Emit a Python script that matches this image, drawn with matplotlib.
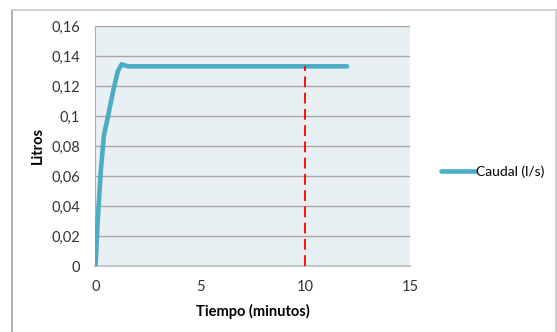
import matplotlib
matplotlib.use("Agg")
import matplotlib.pyplot as plt
from matplotlib.lines import Line2D

tiempo = [0, 0.1, 0.25, 0.4, 0.6, 0.83, 1.07, 1.25, 1.4, 1.55, 2, 3, 4, 5, 6, 7, 8, 9, 10, 11, 12]
caudal = [0, 0.029, 0.063, 0.087, 0.100, 0.116, 0.130, 0.1345, 0.1337, 0.1331,
          0.1331, 0.1331, 0.1331, 0.1331, 0.1331, 0.1331, 0.1331, 0.1331, 0.1331, 0.1331, 0.1331]
marca_x = [10, 10]
marca_y = [0, 0.1331]
yticks = [0, 0.02, 0.04, 0.06, 0.08, 0.1, 0.12, 0.14, 0.16]
ylabels = ["0", "0,02", "0,04", "0,06", "0,08", "0,1", "0,12", "0,14", "0,16"]
xticks = [0, 5, 10, 15]

plt.rcParams['font.family'] = ['Lato', 'DejaVu Sans']
W, H = 557, 332
fig = plt.figure(figsize=(W / 100, H / 100), dpi=100)
ax = fig.add_axes([95.5 / W, 1 - 266 / H, (410 - 95.5) / W, (266 - 26) / H])
ax.set_facecolor('#E9F0F4')

ax.plot(tiempo, caudal, color='#4BACC6', lw=3.3, solid_capstyle='round', solid_joinstyle='round', zorder=3)
ax.plot(marca_x, marca_y, color='#FF0000', lw=1.3, dashes=(6, 3), zorder=4)

ax.set_xlim(0, 15)
ax.set_ylim(0, 0.16)
ax.set_yticks(yticks)
ax.set_yticklabels(ylabels)
ax.set_xticks(xticks)
ax.tick_params(length=0, labelsize=10.5, colors='#333333')
ax.tick_params(axis='x', pad=10)
ax.tick_params(axis='y', pad=11)
ax.grid(axis='y', color='#A6A6A6', lw=1)
ax.set_axisbelow(True)
for s in ['top', 'right']:
    ax.spines[s].set_visible(False)
ax.spines['left'].set_color('#B0B0B0')
ax.spines['bottom'].set_color('#C0C8CC')
ax.spines['bottom'].set_linewidth(1.5)

ax.set_xlabel('Tiempo (minutos)', fontsize=10.5, fontweight='bold', labelpad=7)
ax.set_ylabel('Litros', fontsize=10.5, fontweight='bold', labelpad=5)

h = Line2D([], [], color='#4BACC6', lw=3.3, solid_capstyle='round')
fig.legend([h], ['Caudal (l/s)'], loc='center left', bbox_to_anchor=(428 / W, 1 - 172 / H),
           frameon=False, fontsize=10, handlelength=2.45, handletextpad=0.1)

fig.add_artist(Line2D([12 / W, 12 / W], [0, 1 - 10 / H], color='#A0A0A0', lw=1.2, transform=fig.transFigure))
fig.add_artist(Line2D([12 / W, 556 / W], [1 - 10 / H, 1 - 10 / H], color='#C8C8C8', lw=1.2, transform=fig.transFigure))
fig.add_artist(Line2D([556 / W, 556 / W], [0, 1 - 10 / H], color='#C8C8C8', lw=1.2, transform=fig.transFigure))

fig.savefig('out.png', dpi=100)
